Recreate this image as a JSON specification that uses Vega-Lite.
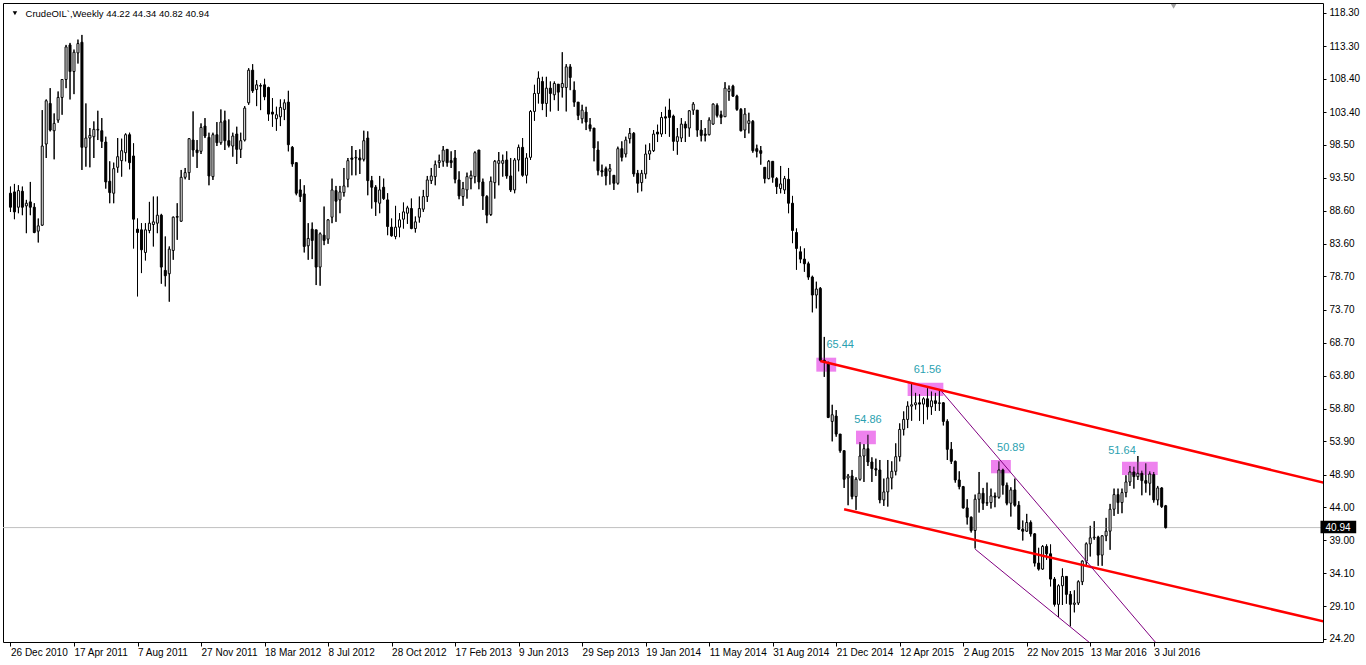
{
"$schema":"https://vega.github.io/schema/vega-lite/v6.json",
"width":1320,"height":639,"autosize":"none",
"padding":{"left":3,"top":3,"right":43,"bottom":23},
"background":"white",
"config":{"view":{"stroke":"black","strokeWidth":1},"font":"Liberation Sans","axis":{"labelOverlap":false}},
"datasets":{
"candles":[
{"d":"2010-12-26","o":91.2,"h":92.2,"l":88.4,"c":89.1},
{"d":"2011-01-02","o":91.4,"h":92.6,"l":87.3,"c":88.4},
{"d":"2011-01-09","o":89.1,"h":92.4,"l":88.2,"c":91.6},
{"d":"2011-01-16","o":91.5,"h":92.2,"l":87.9,"c":89.1},
{"d":"2011-01-23","o":89.3,"h":90.2,"l":85.2,"c":89.7},
{"d":"2011-01-30","o":89.9,"h":92.9,"l":87.9,"c":89.1},
{"d":"2011-02-06","o":89.1,"h":89.7,"l":85.2,"c":85.3},
{"d":"2011-02-13","o":85.5,"h":87.4,"l":83.8,"c":86.3},
{"d":"2011-02-20","o":86.4,"h":103.7,"l":86.3,"c":98.3},
{"d":"2011-02-27","o":98.6,"h":105.3,"l":96.5,"c":105.1},
{"d":"2011-03-06","o":104.7,"h":107.0,"l":100.5,"c":100.7},
{"d":"2011-03-13","o":100.6,"h":103.2,"l":96.3,"c":101.7},
{"d":"2011-03-20","o":102.2,"h":106.5,"l":101.8,"c":105.6},
{"d":"2011-03-27","o":105.6,"h":108.3,"l":103.0,"c":108.3},
{"d":"2011-04-03","o":108.3,"h":113.5,"l":107.0,"c":113.2},
{"d":"2011-04-10","o":113.5,"h":113.8,"l":105.3,"c":109.5},
{"d":"2011-04-17","o":109.5,"h":112.8,"l":106.1,"c":112.4},
{"d":"2011-04-24","o":112.3,"h":114.3,"l":110.7,"c":113.7},
{"d":"2011-05-01","o":113.9,"h":115.0,"l":94.7,"c":98.1},
{"d":"2011-05-08","o":98.1,"h":104.7,"l":95.2,"c":99.5},
{"d":"2011-05-15","o":99.5,"h":101.0,"l":95.1,"c":99.9},
{"d":"2011-05-22","o":99.7,"h":102.0,"l":96.5,"c":100.8},
{"d":"2011-05-29","o":100.7,"h":103.6,"l":99.2,"c":100.8},
{"d":"2011-06-05","o":100.6,"h":102.5,"l":98.0,"c":99.0},
{"d":"2011-06-12","o":98.9,"h":99.7,"l":91.9,"c":92.9},
{"d":"2011-06-19","o":93.0,"h":96.0,"l":89.7,"c":91.3},
{"d":"2011-06-26","o":91.2,"h":95.8,"l":89.7,"c":94.9},
{"d":"2011-07-03","o":95.1,"h":99.5,"l":94.3,"c":96.7},
{"d":"2011-07-10","o":96.1,"h":99.4,"l":93.7,"c":97.6},
{"d":"2011-07-17","o":97.3,"h":100.2,"l":96.0,"c":100.0},
{"d":"2011-07-24","o":100.0,"h":100.3,"l":94.8,"c":95.8},
{"d":"2011-07-31","o":96.8,"h":98.7,"l":82.9,"c":87.3},
{"d":"2011-08-07","o":85.8,"h":87.4,"l":75.7,"c":85.3},
{"d":"2011-08-14","o":85.7,"h":86.7,"l":79.2,"c":82.7},
{"d":"2011-08-21","o":82.3,"h":86.7,"l":81.1,"c":85.7},
{"d":"2011-08-28","o":85.6,"h":89.9,"l":85.2,"c":86.7},
{"d":"2011-09-04","o":86.5,"h":90.7,"l":83.2,"c":86.9},
{"d":"2011-09-11","o":86.7,"h":90.7,"l":85.2,"c":87.9},
{"d":"2011-09-18","o":87.9,"h":88.1,"l":77.6,"c":80.1},
{"d":"2011-09-25","o":79.6,"h":84.7,"l":77.2,"c":78.8},
{"d":"2011-10-02","o":79.1,"h":83.2,"l":74.9,"c":82.8},
{"d":"2011-10-09","o":82.6,"h":87.7,"l":81.2,"c":87.6},
{"d":"2011-10-16","o":87.7,"h":89.7,"l":84.2,"c":87.6},
{"d":"2011-10-23","o":87.0,"h":94.7,"l":86.9,"c":93.6},
{"d":"2011-10-30","o":93.6,"h":95.0,"l":93.3,"c":94.3},
{"d":"2011-11-06","o":94.3,"h":99.5,"l":93.2,"c":99.4},
{"d":"2011-11-13","o":99.2,"h":103.5,"l":96.7,"c":97.7},
{"d":"2011-11-20","o":97.7,"h":99.2,"l":95.0,"c":97.3},
{"d":"2011-11-27","o":97.5,"h":101.7,"l":97.1,"c":101.1},
{"d":"2011-12-04","o":101.3,"h":102.5,"l":99.5,"c":99.8},
{"d":"2011-12-11","o":99.6,"h":100.3,"l":92.4,"c":93.8},
{"d":"2011-12-18","o":93.7,"h":100.3,"l":93.2,"c":100.0},
{"d":"2011-12-25","o":100.0,"h":101.9,"l":98.3,"c":98.8},
{"d":"2012-01-01","o":98.8,"h":103.8,"l":98.5,"c":101.9},
{"d":"2012-01-08","o":102.1,"h":103.6,"l":97.7,"c":99.1},
{"d":"2012-01-15","o":99.1,"h":102.3,"l":98.1,"c":98.4},
{"d":"2012-01-22","o":98.3,"h":100.3,"l":96.7,"c":99.8},
{"d":"2012-01-29","o":100.1,"h":101.2,"l":95.6,"c":97.8},
{"d":"2012-02-05","o":97.8,"h":100.3,"l":96.5,"c":99.1},
{"d":"2012-02-12","o":99.2,"h":104.3,"l":99.0,"c":104.0},
{"d":"2012-02-19","o":104.8,"h":110.0,"l":104.5,"c":109.7},
{"d":"2012-02-26","o":109.7,"h":110.6,"l":106.3,"c":106.6},
{"d":"2012-03-04","o":106.8,"h":108.2,"l":104.3,"c":107.5},
{"d":"2012-03-11","o":107.4,"h":107.7,"l":103.7,"c":107.3},
{"d":"2012-03-18","o":107.5,"h":108.4,"l":105.2,"c":105.7},
{"d":"2012-03-25","o":107.1,"h":107.2,"l":102.1,"c":103.1},
{"d":"2012-04-01","o":103.4,"h":105.5,"l":101.2,"c":103.1},
{"d":"2012-04-08","o":102.4,"h":104.2,"l":100.6,"c":103.0},
{"d":"2012-04-15","o":102.7,"h":105.3,"l":101.3,"c":104.1},
{"d":"2012-04-22","o":103.8,"h":105.3,"l":102.2,"c":104.8},
{"d":"2012-04-29","o":104.9,"h":106.6,"l":97.5,"c":98.5},
{"d":"2012-05-06","o":98.1,"h":98.3,"l":95.2,"c":95.6},
{"d":"2012-05-13","o":95.8,"h":95.8,"l":90.9,"c":91.2},
{"d":"2012-05-20","o":91.7,"h":93.3,"l":89.9,"c":90.7},
{"d":"2012-05-27","o":91.1,"h":92.4,"l":82.3,"c":83.2},
{"d":"2012-06-03","o":83.3,"h":86.7,"l":81.2,"c":84.4},
{"d":"2012-06-10","o":85.8,"h":86.8,"l":81.3,"c":84.1},
{"d":"2012-06-17","o":85.7,"h":85.7,"l":77.4,"c":80.1},
{"d":"2012-06-24","o":80.1,"h":85.3,"l":77.3,"c":85.1},
{"d":"2012-07-01","o":84.9,"h":89.2,"l":83.4,"c":84.1},
{"d":"2012-07-08","o":84.3,"h":87.3,"l":83.6,"c":87.2},
{"d":"2012-07-15","o":87.6,"h":93.4,"l":86.7,"c":91.7},
{"d":"2012-07-22","o":91.6,"h":92.3,"l":86.9,"c":90.0},
{"d":"2012-07-29","o":90.2,"h":92.3,"l":88.2,"c":91.4},
{"d":"2012-08-05","o":91.3,"h":95.0,"l":90.7,"c":92.3},
{"d":"2012-08-12","o":93.3,"h":96.5,"l":92.1,"c":96.1},
{"d":"2012-08-19","o":96.5,"h":98.3,"l":93.9,"c":96.3},
{"d":"2012-08-26","o":96.5,"h":97.7,"l":93.9,"c":96.6},
{"d":"2012-09-02","o":96.5,"h":97.8,"l":94.1,"c":96.2},
{"d":"2012-09-09","o":96.3,"h":100.6,"l":96.0,"c":99.1},
{"d":"2012-09-16","o":99.5,"h":100.5,"l":90.9,"c":93.1},
{"d":"2012-09-23","o":93.1,"h":93.8,"l":88.9,"c":92.1},
{"d":"2012-09-30","o":92.1,"h":92.4,"l":87.8,"c":89.9},
{"d":"2012-10-07","o":89.7,"h":93.8,"l":88.2,"c":91.7},
{"d":"2012-10-14","o":92.1,"h":93.4,"l":90.2,"c":90.4},
{"d":"2012-10-21","o":90.2,"h":91.2,"l":84.9,"c":86.2},
{"d":"2012-10-28","o":86.1,"h":87.4,"l":84.7,"c":84.8},
{"d":"2012-11-04","o":84.7,"h":89.3,"l":84.3,"c":86.1},
{"d":"2012-11-11","o":86.1,"h":88.2,"l":84.6,"c":87.2},
{"d":"2012-11-18","o":87.3,"h":89.8,"l":85.9,"c":88.4},
{"d":"2012-11-25","o":88.2,"h":89.3,"l":86.6,"c":89.0},
{"d":"2012-12-02","o":88.9,"h":90.4,"l":85.8,"c":85.9},
{"d":"2012-12-09","o":85.9,"h":87.7,"l":85.3,"c":86.9},
{"d":"2012-12-16","o":87.6,"h":90.7,"l":86.8,"c":88.9},
{"d":"2012-12-23","o":88.8,"h":91.7,"l":88.4,"c":90.7},
{"d":"2012-12-30","o":90.7,"h":93.8,"l":89.9,"c":93.2},
{"d":"2013-01-06","o":93.1,"h":95.0,"l":92.6,"c":93.8},
{"d":"2013-01-13","o":93.7,"h":96.1,"l":92.4,"c":95.5},
{"d":"2013-01-20","o":95.8,"h":97.0,"l":95.0,"c":96.1},
{"d":"2013-01-27","o":96.0,"h":98.3,"l":95.2,"c":97.7},
{"d":"2013-02-03","o":97.8,"h":97.8,"l":95.2,"c":95.8},
{"d":"2013-02-10","o":96.1,"h":97.5,"l":95.0,"c":95.8},
{"d":"2013-02-17","o":96.5,"h":97.7,"l":92.7,"c":93.3},
{"d":"2013-02-24","o":93.2,"h":94.5,"l":90.3,"c":90.8},
{"d":"2013-03-03","o":90.7,"h":92.9,"l":89.3,"c":91.9},
{"d":"2013-03-10","o":91.7,"h":94.3,"l":90.4,"c":93.7},
{"d":"2013-03-17","o":93.4,"h":94.6,"l":91.8,"c":93.9},
{"d":"2013-03-24","o":93.7,"h":97.5,"l":92.7,"c":97.3},
{"d":"2013-03-31","o":97.7,"h":97.7,"l":91.8,"c":92.9},
{"d":"2013-04-07","o":92.9,"h":93.4,"l":88.7,"c":90.8},
{"d":"2013-04-14","o":90.7,"h":90.9,"l":86.7,"c":87.9},
{"d":"2013-04-21","o":88.0,"h":93.7,"l":87.8,"c":93.0},
{"d":"2013-04-28","o":92.8,"h":96.2,"l":90.4,"c":96.0},
{"d":"2013-05-05","o":95.7,"h":97.4,"l":92.4,"c":96.1},
{"d":"2013-05-12","o":95.7,"h":97.0,"l":93.7,"c":96.1},
{"d":"2013-05-19","o":96.2,"h":97.5,"l":93.4,"c":93.8},
{"d":"2013-05-26","o":93.8,"h":96.5,"l":91.4,"c":91.7},
{"d":"2013-06-02","o":91.7,"h":96.5,"l":91.2,"c":96.2},
{"d":"2013-06-09","o":96.2,"h":98.5,"l":94.5,"c":98.1},
{"d":"2013-06-16","o":98.1,"h":99.5,"l":93.7,"c":93.9},
{"d":"2013-06-23","o":93.9,"h":97.2,"l":92.7,"c":96.5},
{"d":"2013-06-30","o":96.6,"h":103.7,"l":96.2,"c":103.5},
{"d":"2013-07-07","o":103.5,"h":107.5,"l":102.1,"c":106.2},
{"d":"2013-07-14","o":106.2,"h":109.5,"l":104.7,"c":108.5},
{"d":"2013-07-21","o":108.0,"h":108.7,"l":103.7,"c":104.7},
{"d":"2013-07-28","o":104.7,"h":108.7,"l":102.7,"c":107.0},
{"d":"2013-08-04","o":107.0,"h":108.0,"l":103.5,"c":106.2},
{"d":"2013-08-11","o":106.0,"h":108.0,"l":105.2,"c":107.7},
{"d":"2013-08-18","o":107.6,"h":107.6,"l":103.6,"c":106.4},
{"d":"2013-08-25","o":107.1,"h":112.4,"l":105.6,"c":107.7},
{"d":"2013-09-01","o":107.1,"h":110.6,"l":103.5,"c":110.2},
{"d":"2013-09-08","o":110.2,"h":110.6,"l":106.7,"c":108.6},
{"d":"2013-09-15","o":106.7,"h":108.0,"l":104.2,"c":104.9},
{"d":"2013-09-22","o":104.9,"h":104.9,"l":102.2,"c":102.9},
{"d":"2013-09-29","o":102.4,"h":104.5,"l":101.7,"c":103.7},
{"d":"2013-10-06","o":103.4,"h":104.2,"l":100.7,"c":101.9},
{"d":"2013-10-13","o":101.5,"h":102.5,"l":100.5,"c":100.9},
{"d":"2013-10-20","o":101.0,"h":101.0,"l":96.0,"c":98.0},
{"d":"2013-10-27","o":97.7,"h":99.0,"l":93.9,"c":94.6},
{"d":"2013-11-03","o":94.6,"h":95.5,"l":93.7,"c":94.4},
{"d":"2013-11-10","o":94.9,"h":95.2,"l":92.4,"c":93.8},
{"d":"2013-11-17","o":94.5,"h":95.6,"l":92.5,"c":94.9},
{"d":"2013-11-24","o":93.9,"h":93.9,"l":91.7,"c":92.7},
{"d":"2013-12-01","o":92.7,"h":98.2,"l":92.5,"c":97.9},
{"d":"2013-12-08","o":97.9,"h":99.0,"l":96.0,"c":96.6},
{"d":"2013-12-15","o":97.1,"h":99.7,"l":96.6,"c":99.2},
{"d":"2013-12-22","o":99.4,"h":101.0,"l":98.7,"c":100.2},
{"d":"2013-12-29","o":100.2,"h":100.4,"l":93.7,"c":94.1},
{"d":"2014-01-05","o":94.2,"h":94.7,"l":91.3,"c":92.7},
{"d":"2014-01-12","o":92.8,"h":94.7,"l":91.5,"c":94.2},
{"d":"2014-01-19","o":94.1,"h":98.5,"l":93.4,"c":97.1},
{"d":"2014-01-26","o":97.1,"h":98.7,"l":96.2,"c":97.6},
{"d":"2014-02-02","o":97.6,"h":100.7,"l":97.4,"c":100.1},
{"d":"2014-02-09","o":100.4,"h":101.5,"l":98.9,"c":100.1},
{"d":"2014-02-16","o":100.1,"h":103.4,"l":99.7,"c":102.6},
{"d":"2014-02-23","o":102.7,"h":104.2,"l":100.1,"c":102.5},
{"d":"2014-03-02","o":103.7,"h":105.4,"l":99.7,"c":102.6},
{"d":"2014-03-09","o":102.8,"h":103.0,"l":97.6,"c":99.0},
{"d":"2014-03-16","o":99.0,"h":101.0,"l":97.0,"c":99.7},
{"d":"2014-03-23","o":99.5,"h":102.5,"l":98.9,"c":101.6},
{"d":"2014-03-30","o":101.6,"h":102.0,"l":98.9,"c":101.0},
{"d":"2014-04-06","o":101.0,"h":103.7,"l":99.7,"c":103.6},
{"d":"2014-04-13","o":103.7,"h":104.9,"l":103.0,"c":104.6},
{"d":"2014-04-20","o":103.7,"h":103.7,"l":99.7,"c":100.7},
{"d":"2014-04-27","o":100.7,"h":102.2,"l":99.0,"c":99.9},
{"d":"2014-05-04","o":100.1,"h":101.0,"l":99.0,"c":99.9},
{"d":"2014-05-11","o":100.0,"h":102.6,"l":99.9,"c":102.2},
{"d":"2014-05-18","o":101.6,"h":104.7,"l":101.5,"c":104.6},
{"d":"2014-05-25","o":104.4,"h":104.7,"l":102.6,"c":102.9},
{"d":"2014-06-01","o":103.0,"h":103.6,"l":101.6,"c":102.6},
{"d":"2014-06-08","o":102.7,"h":107.9,"l":102.7,"c":107.0},
{"d":"2014-06-15","o":106.5,"h":107.4,"l":105.1,"c":106.9},
{"d":"2014-06-22","o":107.3,"h":107.5,"l":105.7,"c":105.8},
{"d":"2014-06-29","o":105.8,"h":106.0,"l":103.6,"c":103.8},
{"d":"2014-07-06","o":103.8,"h":104.0,"l":100.5,"c":100.6},
{"d":"2014-07-13","o":100.7,"h":104.0,"l":99.5,"c":103.1},
{"d":"2014-07-20","o":101.7,"h":103.3,"l":100.2,"c":102.1},
{"d":"2014-07-27","o":102.0,"h":102.2,"l":97.3,"c":97.6},
{"d":"2014-08-03","o":97.9,"h":98.5,"l":96.6,"c":97.5},
{"d":"2014-08-10","o":97.6,"h":98.3,"l":95.5,"c":97.2},
{"d":"2014-08-17","o":95.1,"h":95.1,"l":92.7,"c":93.4},
{"d":"2014-08-24","o":93.4,"h":96.2,"l":93.3,"c":96.0},
{"d":"2014-08-31","o":96.0,"h":96.0,"l":92.8,"c":93.6},
{"d":"2014-09-07","o":93.4,"h":93.6,"l":91.1,"c":92.2},
{"d":"2014-09-14","o":91.9,"h":95.3,"l":91.2,"c":92.6},
{"d":"2014-09-21","o":91.7,"h":93.8,"l":91.1,"c":93.4},
{"d":"2014-09-28","o":93.3,"h":95.0,"l":88.2,"c":89.7},
{"d":"2014-10-05","o":89.7,"h":90.8,"l":83.7,"c":85.6},
{"d":"2014-10-12","o":85.3,"h":85.9,"l":79.7,"c":82.9},
{"d":"2014-10-19","o":82.4,"h":83.2,"l":80.7,"c":81.3},
{"d":"2014-10-26","o":81.3,"h":82.9,"l":79.4,"c":80.6},
{"d":"2014-11-02","o":80.6,"h":80.9,"l":78.2,"c":78.6},
{"d":"2014-11-09","o":78.6,"h":78.8,"l":73.3,"c":75.9},
{"d":"2014-11-16","o":75.9,"h":77.9,"l":73.9,"c":76.8},
{"d":"2014-11-23","o":76.9,"h":77.1,"l":65.9,"c":66.1},
{"d":"2014-11-30","o":66.1,"h":69.6,"l":63.6,"c":65.8},
{"d":"2014-12-07","o":65.6,"h":65.9,"l":57.4,"c":57.5},
{"d":"2014-12-14","o":56.9,"h":59.4,"l":53.9,"c":57.9},
{"d":"2014-12-21","o":57.7,"h":58.6,"l":54.6,"c":55.0},
{"d":"2014-12-28","o":55.0,"h":55.0,"l":52.2,"c":52.5},
{"d":"2015-01-04","o":52.5,"h":52.5,"l":46.9,"c":48.2},
{"d":"2015-01-11","o":48.4,"h":49.0,"l":44.3,"c":48.7},
{"d":"2015-01-18","o":48.7,"h":49.6,"l":45.2,"c":45.6},
{"d":"2015-01-25","o":45.6,"h":48.5,"l":43.6,"c":48.2},
{"d":"2015-02-01","o":48.2,"h":53.8,"l":48.0,"c":51.7},
{"d":"2015-02-08","o":51.7,"h":53.5,"l":47.8,"c":52.8},
{"d":"2015-02-15","o":52.8,"h":54.9,"l":50.2,"c":50.8},
{"d":"2015-02-22","o":50.8,"h":51.5,"l":47.8,"c":49.8},
{"d":"2015-03-01","o":49.8,"h":51.3,"l":48.7,"c":49.6},
{"d":"2015-03-08","o":49.6,"h":51.1,"l":44.6,"c":45.1},
{"d":"2015-03-15","o":45.1,"h":48.3,"l":44.2,"c":46.3},
{"d":"2015-03-22","o":46.3,"h":51.1,"l":44.1,"c":48.4},
{"d":"2015-03-29","o":48.4,"h":50.9,"l":46.7,"c":49.4},
{"d":"2015-04-05","o":49.4,"h":53.6,"l":48.8,"c":51.6},
{"d":"2015-04-12","o":51.6,"h":56.6,"l":50.9,"c":55.7},
{"d":"2015-04-19","o":55.7,"h":58.4,"l":54.8,"c":57.2},
{"d":"2015-04-26","o":57.2,"h":59.9,"l":55.9,"c":59.2},
{"d":"2015-05-03","o":59.2,"h":62.6,"l":57.0,"c":59.4},
{"d":"2015-05-10","o":59.4,"h":61.2,"l":58.7,"c":59.7},
{"d":"2015-05-17","o":59.7,"h":61.0,"l":57.0,"c":59.5},
{"d":"2015-05-24","o":59.5,"h":60.5,"l":56.5,"c":60.3},
{"d":"2015-05-31","o":60.3,"h":61.9,"l":57.2,"c":59.1},
{"d":"2015-06-07","o":59.1,"h":61.4,"l":57.9,"c":60.0},
{"d":"2015-06-14","o":60.0,"h":61.2,"l":58.5,"c":59.6},
{"d":"2015-06-21","o":59.6,"h":61.6,"l":58.5,"c":59.7},
{"d":"2015-06-28","o":59.7,"h":59.8,"l":56.3,"c":56.9},
{"d":"2015-07-05","o":56.9,"h":57.2,"l":51.1,"c":52.7},
{"d":"2015-07-12","o":52.7,"h":53.8,"l":50.5,"c":50.9},
{"d":"2015-07-19","o":50.9,"h":51.0,"l":47.7,"c":48.1},
{"d":"2015-07-26","o":48.1,"h":49.4,"l":46.7,"c":47.1},
{"d":"2015-08-02","o":47.1,"h":47.2,"l":43.8,"c":43.9},
{"d":"2015-08-09","o":43.9,"h":45.2,"l":41.4,"c":42.5},
{"d":"2015-08-16","o":42.5,"h":42.6,"l":40.2,"c":40.5},
{"d":"2015-08-23","o":40.5,"h":45.9,"l":37.8,"c":45.2},
{"d":"2015-08-30","o":45.2,"h":49.3,"l":43.2,"c":46.1},
{"d":"2015-09-06","o":46.1,"h":46.9,"l":43.6,"c":44.6},
{"d":"2015-09-13","o":44.6,"h":47.7,"l":44.2,"c":44.7},
{"d":"2015-09-20","o":44.7,"h":46.8,"l":43.8,"c":45.7},
{"d":"2015-09-27","o":45.7,"h":46.2,"l":44.0,"c":45.5},
{"d":"2015-10-04","o":45.5,"h":50.9,"l":45.3,"c":49.6},
{"d":"2015-10-11","o":49.6,"h":49.8,"l":45.9,"c":47.3},
{"d":"2015-10-18","o":47.3,"h":47.7,"l":44.3,"c":44.6},
{"d":"2015-10-25","o":44.6,"h":47.0,"l":42.6,"c":46.6},
{"d":"2015-11-01","o":46.6,"h":48.3,"l":44.1,"c":44.3},
{"d":"2015-11-08","o":44.3,"h":44.9,"l":40.6,"c":40.7},
{"d":"2015-11-15","o":40.7,"h":42.0,"l":39.0,"c":40.4},
{"d":"2015-11-22","o":40.4,"h":43.0,"l":40.3,"c":41.7},
{"d":"2015-11-29","o":41.7,"h":42.0,"l":39.6,"c":40.0},
{"d":"2015-12-06","o":40.0,"h":40.1,"l":35.1,"c":35.6},
{"d":"2015-12-13","o":35.6,"h":37.9,"l":34.5,"c":34.7},
{"d":"2015-12-20","o":34.7,"h":38.3,"l":34.6,"c":38.1},
{"d":"2015-12-27","o":38.1,"h":38.4,"l":36.1,"c":37.0},
{"d":"2016-01-03","o":37.0,"h":38.4,"l":32.1,"c":33.2},
{"d":"2016-01-10","o":33.2,"h":33.5,"l":29.1,"c":29.4},
{"d":"2016-01-17","o":29.4,"h":32.4,"l":27.5,"c":32.2},
{"d":"2016-01-24","o":32.2,"h":34.8,"l":29.3,"c":33.6},
{"d":"2016-01-31","o":33.6,"h":33.6,"l":29.5,"c":30.9},
{"d":"2016-02-07","o":30.9,"h":31.4,"l":26.1,"c":29.4},
{"d":"2016-02-14","o":29.4,"h":31.5,"l":28.2,"c":29.6},
{"d":"2016-02-21","o":29.6,"h":33.0,"l":29.3,"c":32.8},
{"d":"2016-02-28","o":32.8,"h":36.0,"l":32.3,"c":35.9},
{"d":"2016-03-06","o":35.9,"h":38.7,"l":35.3,"c":38.5},
{"d":"2016-03-13","o":38.5,"h":41.2,"l":36.6,"c":39.4},
{"d":"2016-03-20","o":39.4,"h":41.9,"l":39.1,"c":39.5},
{"d":"2016-03-27","o":39.5,"h":39.7,"l":35.2,"c":36.8},
{"d":"2016-04-03","o":36.8,"h":39.8,"l":35.2,"c":39.7},
{"d":"2016-04-10","o":39.7,"h":42.4,"l":38.9,"c":40.4},
{"d":"2016-04-17","o":40.4,"h":44.5,"l":37.6,"c":43.7},
{"d":"2016-04-24","o":43.7,"h":46.8,"l":42.7,"c":45.9},
{"d":"2016-05-01","o":45.9,"h":46.8,"l":43.0,"c":44.7},
{"d":"2016-05-08","o":44.7,"h":46.8,"l":43.1,"c":46.2},
{"d":"2016-05-15","o":46.2,"h":48.8,"l":45.5,"c":47.8},
{"d":"2016-05-22","o":47.8,"h":50.2,"l":47.2,"c":49.3},
{"d":"2016-05-29","o":49.3,"h":50.1,"l":46.8,"c":48.6},
{"d":"2016-06-05","o":48.6,"h":51.7,"l":48.1,"c":49.1},
{"d":"2016-06-12","o":49.1,"h":49.5,"l":45.8,"c":48.0},
{"d":"2016-06-19","o":48.0,"h":50.6,"l":46.2,"c":47.6},
{"d":"2016-06-26","o":47.6,"h":49.4,"l":45.8,"c":49.0},
{"d":"2016-07-03","o":48.9,"h":49.3,"l":44.7,"c":45.1},
{"d":"2016-07-10","o":45.1,"h":47.2,"l":44.3,"c":46.9},
{"d":"2016-07-17","o":46.9,"h":47.0,"l":43.9,"c":44.1},
{"d":"2016-07-24","o":44.22,"h":44.34,"l":40.82,"c":40.94}
],
"boxes":[
{"d1":"2014-11-16","d2":"2014-12-21","p1":64.38,"p2":66.48},
{"d1":"2015-01-25","d2":"2015-03-01","p1":53.47,"p2":55.51},
{"d1":"2015-04-26","d2":"2015-06-28","p1":60.72,"p2":62.72},
{"d1":"2015-09-20","d2":"2015-10-25","p1":49.1,"p2":51.1},
{"d1":"2016-05-08","d2":"2016-07-10","p1":48.85,"p2":50.85}
],
"labels":[
{"d":"2014-12-28","p":68.4,"t":"65.44"},
{"d":"2015-02-15","p":57.1,"t":"54.86"},
{"d":"2015-05-31","p":64.6,"t":"61.56"},
{"d":"2015-10-25","p":52.9,"t":"50.89"},
{"d":"2016-05-08","p":52.5,"t":"51.64"}
],
"red":[
{"g":"upper","d":"2014-11-23","p":65.99},
{"g":"upper","d":"2017-05-28","p":47.09},
{"g":"lower","d":"2015-01-04","p":43.69},
{"g":"lower","d":"2017-05-28","p":26.25}
],
"purple":[
{"g":"a","d":"2015-06-25","p":61.4},
{"g":"a","d":"2016-07-17","p":22.6},
{"g":"b","d":"2015-08-23","p":37.7},
{"g":"b","d":"2016-04-03","p":22.1}
],
"last":[{"p":40.94,"t":"40.94","d1":"2017-04-23","d2":"2017-06-25","dm":"2017-05-24","p1":40.1,"p2":41.95}],
"shift":[{"d":"2016-08-07","p":119.3}]
},
"layer":[
{"data":{"name":"candles"},"mark":{"type":"rule","color":"black","strokeWidth":1},
 "encoding":{
  "x":{"field":"d","type":"temporal","scale":{"type":"utc","domain":[{"year":2010,"month":12,"date":21,"hours":15,"utc":true},{"year":2017,"month":4,"date":18,"hours":15,"utc":true}]},
   "axis":{"values":[{"year":2010,"month":12,"date":26,"utc":true},{"year":2011,"month":4,"date":17,"utc":true},{"year":2011,"month":8,"date":7,"utc":true},{"year":2011,"month":11,"date":27,"utc":true},{"year":2012,"month":3,"date":18,"utc":true},{"year":2012,"month":7,"date":8,"utc":true},{"year":2012,"month":10,"date":28,"utc":true},{"year":2013,"month":2,"date":17,"utc":true},{"year":2013,"month":6,"date":9,"utc":true},{"year":2013,"month":9,"date":29,"utc":true},{"year":2014,"month":1,"date":19,"utc":true},{"year":2014,"month":5,"date":11,"utc":true},{"year":2014,"month":8,"date":31,"utc":true},{"year":2014,"month":12,"date":21,"utc":true},{"year":2015,"month":4,"date":12,"utc":true},{"year":2015,"month":8,"date":2,"utc":true},{"year":2015,"month":11,"date":22,"utc":true},{"year":2016,"month":3,"date":13,"utc":true},{"year":2016,"month":7,"date":3,"utc":true}],
    "tickCount":40,"format":"%-d %b %Y","labelAlign":"left","labelBaseline":"top","labelFontSize":10,"labelFont":"Liberation Sans","labelColor":"black","tickColor":"black","tickSize":4,"labelPadding":1,"domain":false,"grid":false,"title":null,"labelOverlap":false,"labelFlush":false,"labelBound":false}},
  "y":{"field":"l","type":"quantitative","scale":{"domain":[23.74,119.8],"nice":false,"zero":false},
   "axis":{"orient":"right","values":[118.3,113.3,108.4,103.4,98.5,93.5,88.6,83.6,78.7,73.7,68.7,63.8,58.8,53.9,48.9,44.0,39.0,34.1,29.1,24.2],"tickCount":40,"format":".2f","labelFontSize":10,"labelFont":"Liberation Sans","labelColor":"black","tickColor":"black","tickSize":3,"labelPadding":3,"domain":false,"grid":false,"title":null,"labelOverlap":false,"labelFlush":false,"labelBound":false}},
  "y2":{"field":"h"}}},
{"data":{"name":"boxes"},"mark":{"type":"rect","fill":"#ee82ee"},
 "encoding":{
  "x":{"field":"d1","type":"temporal"},
  "x2":{"field":"d2"},
  "y":{"field":"p1","type":"quantitative"},
  "y2":{"field":"p2"}}},
{"data":{"name":"last"},"mark":{"type":"rule","color":"#c0c0c0","strokeWidth":1},
 "encoding":{"y":{"field":"p","type":"quantitative"}}},
{"data":{"name":"candles"},"mark":{"type":"rule","color":"black","strokeWidth":1},
 "encoding":{
  "x":{"field":"d","type":"temporal"},
  "y":{"field":"l","type":"quantitative"},
  "y2":{"field":"h"}}},
{"data":{"name":"candles"},"mark":{"type":"bar","size":2,"stroke":"black","strokeWidth":1},
 "encoding":{
  "x":{"field":"d","type":"temporal"},
  "y":{"field":"o","type":"quantitative"},
  "y2":{"field":"c"},
  "fill":{"condition":{"test":"datum.c >= datum.o","value":"white"},"value":"black"}}},
{"data":{"name":"red"},"mark":{"type":"line","color":"#ff0000","strokeWidth":2.5,"clip":true},
 "encoding":{
  "x":{"field":"d","type":"temporal"},
  "y":{"field":"p","type":"quantitative"},
  "detail":{"field":"g"}}},
{"data":{"name":"purple"},"mark":{"type":"line","color":"#800080","strokeWidth":1,"clip":true},
 "encoding":{
  "x":{"field":"d","type":"temporal"},
  "y":{"field":"p","type":"quantitative"},
  "detail":{"field":"g"}}},
{"data":{"name":"labels"},"mark":{"type":"text","color":"#2a9fb0","font":"Liberation Sans","fontSize":11,"align":"center","baseline":"middle"},
 "encoding":{
  "x":{"field":"d","type":"temporal"},
  "y":{"field":"p","type":"quantitative"},
  "text":{"field":"t"}}},
{"data":{"name":"last"},"mark":{"type":"rect","fill":"black"},
 "encoding":{
  "x":{"field":"d1","type":"temporal"},
  "x2":{"field":"d2"},
  "y":{"field":"p1","type":"quantitative"},
  "y2":{"field":"p2"}}},
{"data":{"name":"last"},"mark":{"type":"text","color":"white","font":"Liberation Sans","fontSize":10,"align":"center","baseline":"middle"},
 "encoding":{
  "x":{"field":"dm","type":"temporal"},
  "y":{"field":"p","type":"quantitative"},
  "text":{"field":"t"}}},
{"data":{"name":"shift"},"mark":{"type":"point","shape":"triangle-down","filled":true,"color":"#a0a0a0","size":30,"opacity":1},
 "encoding":{
  "x":{"field":"d","type":"temporal"},
  "y":{"field":"p","type":"quantitative"}}},
{"data":{"values":[{"title":"CrudeOIL`,Weekly  44.22 44.34 40.82 40.94"}]},"mark":{"type":"text","align":"left","baseline":"alphabetic","font":"Liberation Sans","fontSize":9.5,"color":"black"},
 "encoding":{
  "x":{"datum":{"year":2011,"month":1,"date":21,"hours":14,"utc":true},"type":"temporal"},
  "y":{"datum":117.74,"type":"quantitative"},
  "text":{"field":"title"}}},
{"data":{"values":[{"marker":"menu"}]},"mark":{"type":"point","shape":"triangle-down","filled":true,"color":"black","size":20,"opacity":1},
 "encoding":{
  "x":{"datum":{"year":2011,"month":1,"date":2,"hours":21,"utc":true},"type":"temporal"},
  "y":{"datum":118.25,"type":"quantitative"}}}
]
}
